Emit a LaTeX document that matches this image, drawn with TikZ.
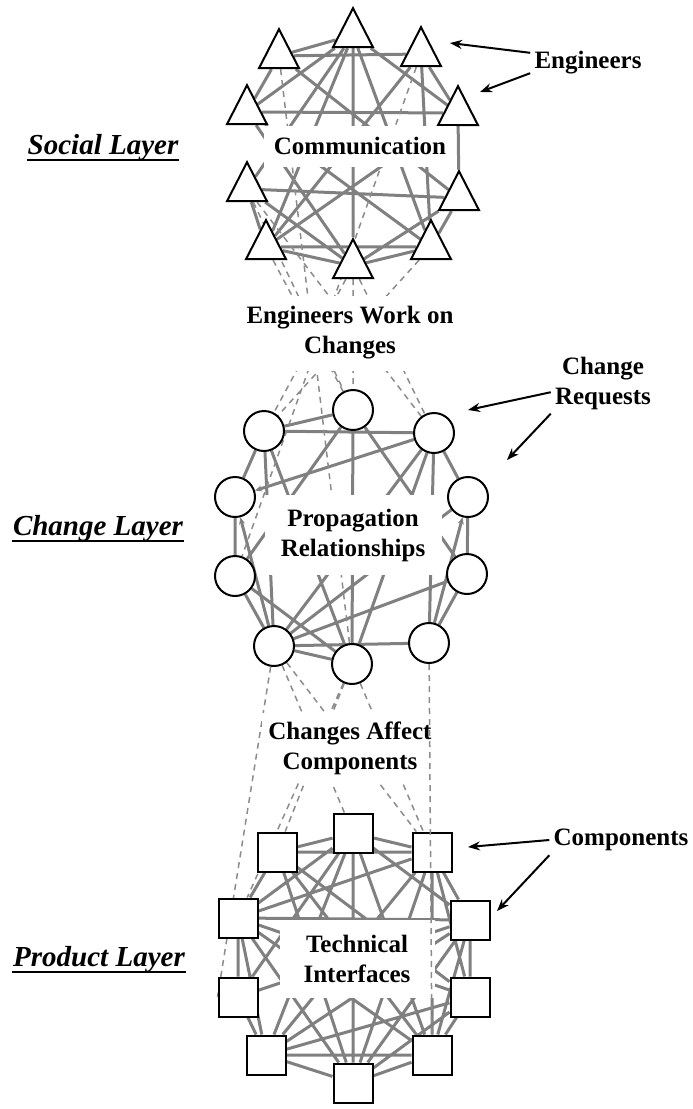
\documentclass[tikz,border=0pt]{standalone}
\usepackage{fontspec}
\setmainfont{Liberation Serif}
\usetikzlibrary{arrows.meta,shapes.geometric,backgrounds}

\begin{document}
\begin{tikzpicture}[x=1pt, y=-1pt, >={Stealth[length=12pt,width=9pt]}, line width=2pt,
  engineer/.style={draw, fill=white, isosceles triangle, isosceles triangle apex angle=54,
    isosceles triangle stretches=true, shape border rotate=90, inner sep=0pt,
    minimum width=40pt, minimum height=39pt, anchor=apex},
  request/.style={draw, fill=white, circle, inner sep=0pt, minimum size=40pt},
  part/.style={draw, fill=white, rectangle, inner sep=0pt, minimum size=39pt},
  link/.style={draw=black!50, line width=3pt},
  dep/.style={draw=black!45, line width=1.5pt, dash pattern=on 6pt off 5pt},
  pointer/.style={->, line width=2pt},
  txt/.style={font=\fontsize{25}{30}\selectfont\bfseries, align=center},
  box/.style={txt, fill=white, inner sep=0pt},
  layer/.style={font=\fontsize{29}{34}\selectfont\bfseries\itshape, inner sep=0pt, anchor=base}]
  \useasboundingbox (0,0) rectangle (693,1109);

  % engineers
  \node[engineer] (t1) at (353,6) {};   \node[engineer] (t2) at (279,27) {};
  \node[engineer] (t3) at (421,25) {};  \node[engineer] (t4) at (247,83) {};
  \node[engineer] (t5) at (458,84) {};  \node[engineer] (t6) at (247,160) {};
  \node[engineer] (t7) at (459,169) {}; \node[engineer] (t8) at (266,218) {};
  \node[engineer] (t9) at (431,218) {}; \node[engineer] (t10) at (353,237) {};
  % change requests
  \node[request] (c1) at (353,410) {};  \node[request] (c2) at (264,431) {};
  \node[request] (c3) at (434,433) {};  \node[request] (c4) at (235,497) {};
  \node[request] (c5) at (468,497) {};  \node[request] (c6) at (235,576) {};
  \node[request] (c7) at (467,574) {};  \node[request] (c8) at (274,646) {};
  \node[request] (c9) at (429,643) {};  \node[request] (c10) at (352,664) {};
  % components
  \node[part] (p1) at (353,833) {};  \node[part] (p2) at (277,852) {};
  \node[part] (p3) at (432,852) {};  \node[part] (p4) at (238,918) {};
  \node[part] (p5) at (470,920) {};  \node[part] (p6) at (238,997) {};
  \node[part] (p7) at (470,997) {};  \node[part] (p8) at (266,1055) {};
  \node[part] (p9) at (432,1055) {}; \node[part] (p10) at (353,1083) {};

  \node[box, minimum width=192pt, minimum height=41pt] (comm) at (360,146) {Communication};
  \node[box, minimum width=222pt, minimum height=75pt] (work) at (350,333) {Engineers Work on\\Changes};
  \node[box, minimum width=177pt, minimum height=80pt] (prop) at (353,535) {Propagation\\Relationships};
  \node[box, minimum width=176pt, minimum height=70pt] (affect) at (350,748) {Changes Affect\\Components};
  \node[box, minimum width=155pt, minimum height=78pt] (tech) at (357,959) {Technical\\Interfaces};

  \begin{scope}[on background layer]
    \draw[link] (t1)--(t2) (t1)--(t4) (t1)--(t5) (t1)--(t6) (t1)--(t9) (t1)--(t10) (t1)--(t8)
      (t2)--(t3) (t2)--(t4) (t2)--(t7) (t3)--(t5) (t3)--(t9) (t3)--(t8)
      (t4)--(t5) (t4)--(t10) (t4)--(t9) (t5)--(t7) (t5)--(t8)
      (t6)--(t10) (t6)--(t8) (t6)--(t7) (t7)--(t10) (t7)--(t9) (t8)--(t9) (t8)--(t10) (t9)--(t10);
    \draw[link] (c1)--(c2) (c1)--(c6) (c1)--(c7) (c1)--(c10) (c2)--(c3) (c2)--(c4) (c2)--(c8)
      (c3)--(c5) (c3)--(c8) (c3)--(c9) (c4)--(c6) (c6)--(c8) (c8)--(c7) (c8)--(c9) (c8)--(c10)
      (c2)--(c10) (c3)--(c10) (c6)--(c10) (c9)--(c7) (c5)--(c7) (c8)--(c5);
    \draw[link, ->, >={Stealth[length=7pt,width=6pt]}] (c3)--(c4);
    \draw[link, ->, >={Stealth[length=7pt,width=6pt]}] (c8)--(c4);
    \draw[link, ->, >={Stealth[length=7pt,width=6pt]}] (c9)--(c5);
    \draw[link] (p1)--(p2) (p1)--(p3) (p1)--(p4) (p1)--(p5) (p1)--(p10) (p1)--(p8) (p1)--(p6) (p1)--(p9)
      (p2)--(p3) (p2)--(p4) (p2)--(p7) (p2)--(p10) (p2)--(p9)
      (p3)--(p5) (p3)--(p8) (p3)--(p9) (p3)--(p7) (p3)--(p4) (p3)--(p10)
      (p4)--(p5) (p4)--(p6) (p4)--(p8) (p4)--(p10) (p4)--(p9) (p4)--(p7)
      (p5)--(p7) (p5)--(p9) (p5)--(p8) (p5)--(p10) (p5)--(p6) (p6)--(p8) (p6)--(p1)
      (p7)--(p8) (p7)--(p9) (p7)--(p10) (p8)--(p9) (p8)--(p10) (p9)--(p10);
    \draw[dep] (t2)--(c10) (t3)--(c6) (t6)--(c1) (t8)--(c1) (t9)--(c2) (t10)--(c2)
      (t10)--(c1) (t10)--(c3) (t6)--(c3);
    \draw[dep] (c8)--(p6.west) (c10)--(p4) (c8)--(p1) (c8)--(p3) (c10)--(p3) (c10)--(p2);
  \end{scope}
  \draw[dep] (c9)--(p9);

  \node[txt] (eng) at (588,63) {Engineers};
  \node[txt] (req) at (603,383) {Change\\Requests};
  \node[txt] (comp) at (621,840) {Components};
  \coordinate (eng1) at (450,43); \coordinate (eng2) at (480,92);
  \coordinate (req1) at (468,410); \coordinate (req2) at (507,460);
  \coordinate (comp1) at (468,847); \coordinate (comp2) at (497,911);
  \draw[pointer] (eng.170)--(eng1);
  \draw[pointer] (eng.190)--(eng2);
  \draw[pointer] (req.190)--(req1);
  \draw[pointer] (req.south west)--(req2);
  \draw[pointer] (comp.west)--(comp1);
  \draw[pointer] (comp.south west)--(comp2);

  \node[layer] (social) at (103,154) {Social Layer};
  \node[layer] (change) at (98,535) {Change Layer};
  \node[layer] (product) at (99,966) {Product Layer};
  \draw[line width=1.5pt] ([yshift=-6pt]social.base west)--([yshift=-6pt]social.base east);
  \draw[line width=1.5pt] ([yshift=-6pt]change.base west)--([yshift=-6pt]change.base east);
  \draw[line width=1.5pt] ([yshift=-6pt]product.base west)--([yshift=-6pt]product.base east);
\end{tikzpicture}
\end{document}
